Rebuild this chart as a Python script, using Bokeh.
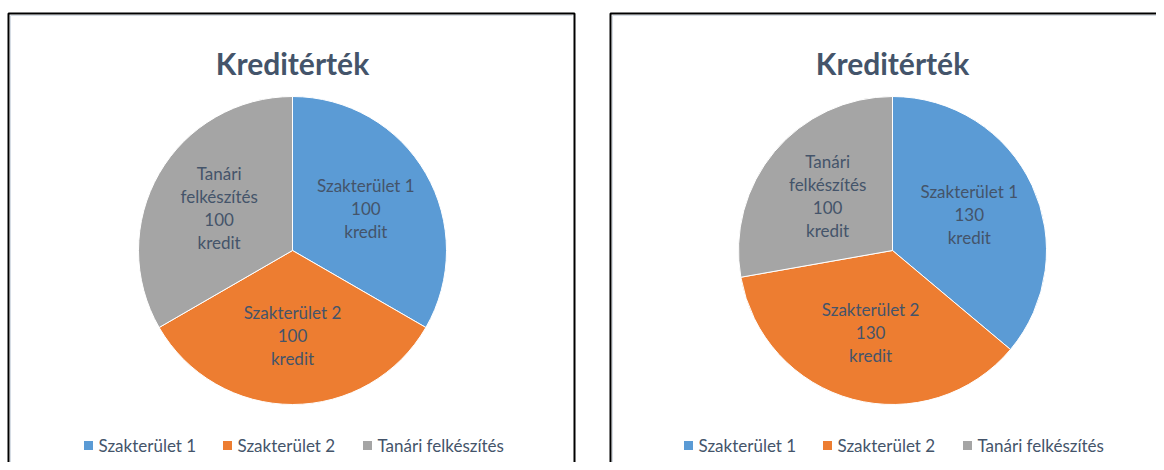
import math
from bokeh.plotting import figure
from bokeh.models import Range1d, ColumnDataSource
from bokeh.core.properties import value
from bokeh.embed import file_html
from bokeh.resources import INLINE

# ---- data ----
categories = ["Szakterület 1", "Szakterület 2", "Tanári felkészítés"]
slice_labels = ["Szakterület 1", "Szakterület 2", "Tanári\nfelkészítés"]
values_left = [100, 100, 100]
values_right = [130, 130, 100]
unit = "kredit"
chart_title = "Kreditérték"

# ---- style ----
colors = ["#5B9BD5", "#ED7D31", "#A5A5A5"]
text_color = "#44546A"
FONT = "Lato"
W, H = 1156, 462


def Y(y_img):
    return H - y_img


p = figure(width=W, height=H, output_backend="svg", toolbar_location=None,
           x_range=Range1d(0, W), y_range=Range1d(0, H),
           min_border=0, min_border_left=0, min_border_right=0,
           min_border_top=0, min_border_bottom=0)
p.axis.visible = False
p.grid.visible = False
p.outline_line_color = None
p.background_fill_color = "white"
p.border_fill_color = "white"

# panel frames
frame_color = "black"
p.line([8, 8, 574, 574], [Y(480), Y(13), Y(13), Y(480)], line_color=frame_color, line_width=2)
p.line([10, 10, 572], [Y(480), Y(15), Y(15)], line_color="#D5DCE4", line_width=1)
p.line([610, 610, 1170], [Y(480), Y(13), Y(13)], line_color=frame_color, line_width=2)
p.line([612, 612, 1170], [Y(480), Y(15), Y(15)], line_color="#D5DCE4", line_width=1)

R = 154
legend_offsets = [-209, -70, 70]


def draw_pie(cx, cy_img, vals):
    cy = Y(cy_img)
    total = float(sum(vals))
    starts, ends, mids = [], [], []
    acc = 0.0
    for v in vals:
        a0 = math.pi / 2 - 2 * math.pi * acc / total
        acc += v
        a1 = math.pi / 2 - 2 * math.pi * acc / total
        starts.append(a0)
        ends.append(a1)
        mids.append((a0 + a1) / 2)
    src = ColumnDataSource(dict(x=[cx] * len(vals), y=[cy] * len(vals),
                                start=starts, end=ends, color=colors))
    p.wedge(x="x", y="y", radius=R, start_angle="start", end_angle="end",
            direction="clock", fill_color="color", line_color="white",
            line_width=1, source=src)
    # data labels
    lr = 0.55 * R
    lx = [cx + lr * math.cos(m) for m in mids]
    ly = [cy + lr * math.sin(m) for m in mids]
    txt = [f"{n}\n{v}\n{unit}" for n, v in zip(slice_labels, vals)]
    p.text(x=lx, y=ly, text=txt, text_align="center", text_baseline="middle",
           text_font=value(FONT), text_font_size="17px", text_color=text_color,
           text_line_height=1.1)
    # title
    p.text(x=[cx], y=[Y(62)], text=[chart_title], text_align="center",
           text_baseline="alphabetic", text_font=value(FONT),
           text_font_style="bold", text_font_size="30px", text_color=text_color)
    # legend
    sx = [cx + o for o in legend_offsets]
    p.rect(x=[s + 5 for s in sx], y=[Y(445)] * 3, width=9, height=9,
           fill_color=colors, line_color=None)
    p.text(x=[s + 15 for s in sx], y=[Y(445)] * 3, text=categories,
           text_align="left", text_baseline="middle", text_font=value(FONT),
           text_font_size="17px", text_color=text_color)


draw_pie(292, 250, values_left)
draw_pie(892, 250, values_right)

open("out.html", "w").write(file_html(p, INLINE))
